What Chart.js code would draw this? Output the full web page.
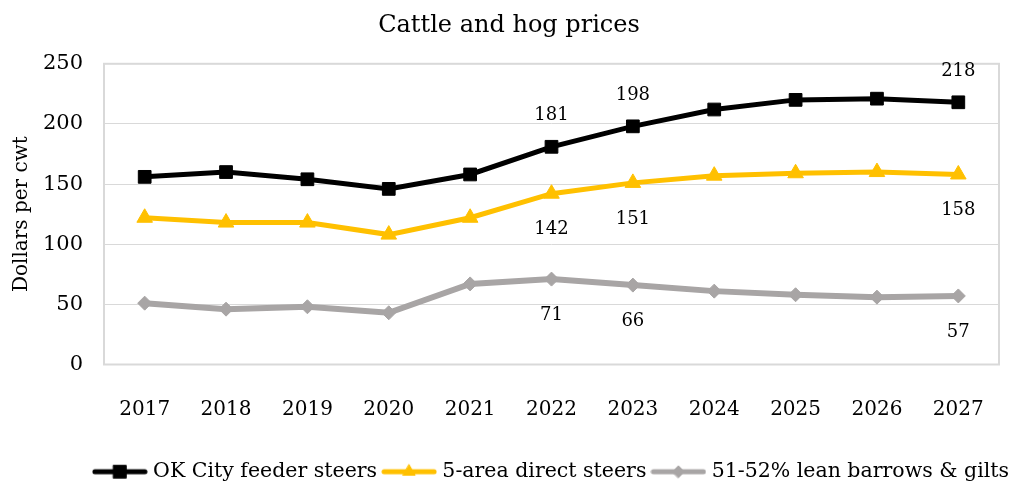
<!DOCTYPE html>
<html>
<head>
<meta charset="utf-8">
<title>Cattle and hog prices</title>
<script src="https://cdn.jsdelivr.net/npm/chart.js@4.4.1/dist/chart.umd.min.js"></script>
<style>
  html, body { margin: 0; padding: 0; background: #fff; }
  #wrap { width: 1018px; height: 485px; }
</style>
</head>
<body>
<div id="wrap"><canvas id="chart1"></canvas></div>
<script>
// data
var years = ['2017', '2018', '2019', '2020', '2021', '2022', '2023', '2024', '2025', '2026', '2027'];
var feederSteers = [156, 160, 154, 146, 158, 181, 198, 212, 220, 221, 218];
var directSteers = [122, 118, 118, 108, 122, 142, 151, 157, 159, 160, 158];
var leanHogs = [51, 46, 48, 43, 67, 71, 66, 61, 58, 56, 57];
var yTicks = [0, 50, 100, 150, 200, 250];
var labelledYears = ['2022', '2023', '2027'];

var serif = '"DejaVu Serif", serif';
var gridColor = '#d9d9d9';

// small canvas with a line and a marker, used as legend symbol
function legendIcon(color, style, radius, lineWidth) {
    var c = document.createElement('canvas');
    c.width = 56;
    c.height = 20;
    var g = c.getContext('2d');
    g.strokeStyle = color;
    g.lineWidth = lineWidth;
    g.lineCap = 'round';
    g.beginPath();
    g.moveTo(3, 10);
    g.lineTo(53, 10);
    g.stroke();
    g.fillStyle = color;
    g.lineWidth = 1;
    Chart.helpers.drawPoint(g, { pointStyle: style, radius: radius, borderWidth: 1 }, 28, 10);
    return c;
}

// value labels for a few years
var valueLabels = {
    id: 'valueLabels',
    afterDatasetsDraw: function (chart) {
        var ctx = chart.ctx;
        ctx.save();
        ctx.font = '18px ' + serif;
        ctx.fillStyle = '#000';
        ctx.textAlign = 'center';
        ctx.textBaseline = 'middle';
        chart.data.datasets.forEach(function (ds, i) {
            var meta = chart.getDatasetMeta(i);
            meta.data.forEach(function (pt, j) {
                if (labelledYears.indexOf(years[j]) < 0) return;
                ctx.fillText(ds.data[j], pt.x, pt.y + ds.labelOffset);
            });
        });
        ctx.restore();
    }
};

// grey frame round the plot area
var plotFrame = {
    id: 'plotFrame',
    beforeDatasetsDraw: function (chart) {
        var a = chart.chartArea;
        var ctx = chart.ctx;
        ctx.save();
        ctx.strokeStyle = gridColor;
        ctx.lineWidth = 2;
        ctx.strokeRect(a.left, a.top, a.right - a.left, a.bottom - a.top);
        ctx.restore();
    }
};

var datasets = [
    {
        label: 'OK City feeder steers',
        data: feederSteers,
        borderColor: '#000000',
        backgroundColor: '#000000',
        borderWidth: 5,
        pointStyle: 'rect',
        pointRadius: 9,
        pointBorderWidth: 1,
        labelOffset: -31,
        icon: legendIcon('#000000', 'rect', 9, 5)
    },
    {
        label: '5-area direct steers',
        data: directSteers,
        borderColor: '#ffc000',
        backgroundColor: '#ffc000',
        borderWidth: 5,
        pointStyle: 'triangle',
        pointRadius: 9,
        pointBorderWidth: 1,
        labelOffset: 36,
        icon: legendIcon('#ffc000', 'triangle', 7, 5)
    },
    {
        label: '51-52% lean barrows & gilts',
        data: leanHogs,
        borderColor: '#a8a5a5',
        backgroundColor: '#a8a5a5',
        borderWidth: 6,
        pointStyle: 'rectRot',
        pointRadius: 7,
        pointBorderWidth: 1,
        labelOffset: 36,
        icon: legendIcon('#a8a5a5', 'rectRot', 6, 5)
    }
];

new Chart('chart1', {
    type: 'line',
    data: {
        labels: years,
        datasets: datasets
    },
    options: {
        responsive: true,
        maintainAspectRatio: false,
        animation: false,
        layout: { padding: { top: 0, left: 0, right: 0, bottom: -7 } },
        elements: { line: { tension: 0 } },
        plugins: {
            title: {
                display: true,
                text: 'Cattle and hog prices',
                color: '#000',
                font: { family: serif, size: 24, weight: 'normal' },
                padding: { top: 11, bottom: 24 }
            },
            legend: {
                position: 'bottom',
                align: 'end',
                labels: {
                    color: '#000',
                    font: { family: serif, size: 20.5, lineHeight: 1 },
                    usePointStyle: true,
                    pointStyleWidth: 46,
                    boxHeight: 20,
                    padding: 9,
                    generateLabels: function (chart) {
                        return chart.data.datasets.map(function (ds, i) {
                            return {
                                text: ds.label,
                                pointStyle: ds.icon,
                                fillStyle: ds.borderColor,
                                strokeStyle: ds.borderColor,
                                fontColor: '#000',
                                lineWidth: 0,
                                hidden: false,
                                datasetIndex: i
                            };
                        });
                    }
                }
            },
            tooltip: { enabled: false }
        },
        scales: {
            x: {
                offset: true,
                grid: { display: false },
                border: { display: false },
                ticks: {
                    color: '#000',
                    font: { family: serif, size: 20 },
                    padding: 25
                },
                afterFit: function (scale) { scale.height = 88; }
            },
            y: {
                min: 0,
                max: 250,
                afterBuildTicks: function (scale) {
                    scale.ticks = yTicks.map(function (v) { return { value: v }; });
                },
                grid: { color: gridColor, lineWidth: 1, drawTicks: false },
                border: { display: false },
                ticks: {
                    color: '#000',
                    font: { family: serif, size: 21 },
                    padding: 21
                },
                title: {
                    display: true,
                    text: 'Dollars per cwt',
                    color: '#000',
                    font: { family: serif, size: 20 },
                    padding: { top: 10, bottom: 4 }
                },
                afterFit: function (scale) { scale.width = 104; }
            },
            // empty strip on the right of the plot
            yRight: {
                position: 'right',
                grid: { display: false },
                border: { display: false },
                ticks: { display: false },
                afterFit: function (scale) { scale.width = 19; }
            }
        }
    },
    plugins: [plotFrame, valueLabels]
});
</script>
</body>
</html>
